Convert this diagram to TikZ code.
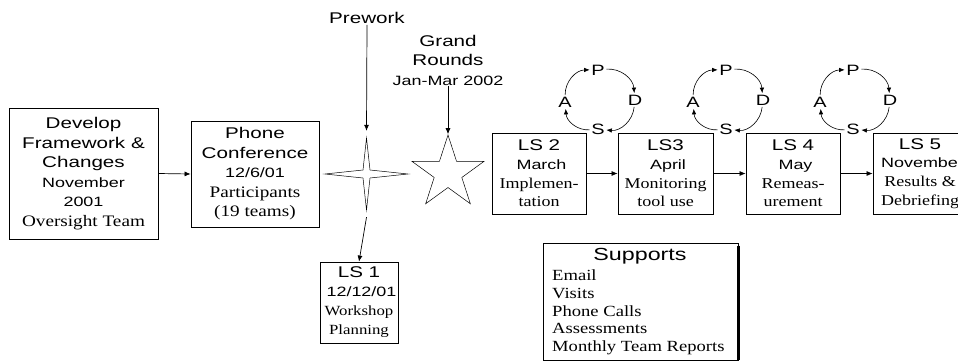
\documentclass[tikz,border=0pt]{standalone}
\usepackage{fontspec}
\setmainfont{Liberation Serif}
\newfontfamily\hsfam[FakeStretch=1.33]{Liberation Sans}
\newfontfamily\tsfam[FakeStretch=1.2]{Liberation Serif}
\usetikzlibrary{shapes.geometric,arrows.meta}
\newcommand\fHead[1][19.5]{\hsfam\fontsize{15.5}{#1}\selectfont}
\newcommand\fSub[1][19.5]{\hsfam\fontsize{13.5}{#1}\selectfont}
\newcommand\fSer[1][19.5]{\tsfam\fontsize{16}{#1}\selectfont}
\newcommand\fSerS[1][18.7]{\tsfam\fontsize{15}{#1}\selectfont}
\newcommand\fSerT[1][19]{\tsfam\fontsize{14}{#1}\selectfont}
\tikzset{
  box/.style={draw, line width=0.8pt, rectangle, inner sep=0pt, align=center},
  conn/.style={-{Latex[length=6pt,width=5pt]}, line width=0.7pt},
  pd/.style={-{Latex[length=5.5pt,width=4.5pt]}, line width=0.6pt},
  letter/.style={inner sep=1.5pt, font=\hsfam\fontsize{15}{18}\selectfont},
  lbl/.style={inner sep=1pt, align=center},
  starline/.style={draw, line width=0.5pt, line join=miter},
}
\begin{document}
\begin{tikzpicture}[x=1pt,y=1pt]
\useasboundingbox (0,0) rectangle (958,-362);
\clip (0,0) rectangle (958,-362);

% left boxes
\node[box, font=\fHead, minimum width=149pt, minimum height=131pt] (dev) at (83.5,-173.5)
  {Develop\\ Framework \&\\ Changes\\ {\fSub November}\\ {\fSub 2001}\\ {\fSer Oversight Team}};
\node[box, font=\fHead, minimum width=128pt, minimum height=106pt] (phone) at (255,-174)
  {Phone\\ Conference\\ {\fSub 12/6/01}\\ {\fSer Participants}\\ {\fSer (19 teams)}};

% four-point star (drawn) with an invisible anchor node
\node[inner sep=0pt, minimum width=83pt, minimum height=86pt] (st4) at (366.5,-174) {};
\draw[starline] (366.5,-138) -- (370,-170) -- (408,-174) -- (370,-178)
  -- (366.5,-210) -- (363,-178) -- (325,-174) -- (363,-170) -- cycle;
% five-point star
\node[draw, star, star points=5, star point ratio=2.618, minimum size=76pt, inner sep=0pt, line width=0.5pt] (st5) at (448,-173) {};

\node[lbl, font=\fHead] (prework) at (367,-18) {Prework};
\node[lbl, font=\fHead] (grand) at (448,-60) {Grand\\ Rounds\\ {\fSub Jan-Mar 2002}};

\node[box, font={\fHead[19]}, minimum width=78pt, minimum height=81pt] (ls1) at (359,-302.5)
  {LS 1\\ {\fSub[19] 12/12/01}\\ {\fSerT Workshop}\\ {\fSerT Planning}};

% LS boxes
\node[box, font={\fHead[18.7]}, minimum width=94pt, minimum height=81pt] (ls2) at (539,-173.5)
  {LS 2\\ {\fSub[18.7] March}\\ {\fSerS Implemen-}\\ {\fSerS tation}};
\node[box, font={\fHead[18.7]}, minimum width=95pt, minimum height=81pt] (ls3) at (665.5,-173.5)
  {LS3\\ {\fSub[18.7] April}\\ {\fSerS Monitoring}\\ {\fSerS tool use}};
\node[box, font={\fHead[18.7]}, minimum width=94pt, minimum height=81pt] (ls4) at (793,-173.5)
  {LS 4\\ {\fSub[18.7] May}\\ {\fSerS Remeas-}\\ {\fSerS urement}};
\node[box, font={\fHead[18.7]}, minimum width=94pt, minimum height=81pt] (ls5) at (920,-173.5)
  {LS 5\\ {\fSub[18.7] November}\\ {\fSerS Results \&}\\ {\fSerS Debriefing}};

% connectors
\draw[conn] (dev.east) -- (phone.west);
\draw[conn] (prework.south) -- (st4.north);
\draw[conn] (st4.south) -- (ls1.north);
\draw[conn] (grand.south) -- (st5.north);
\draw[conn] (ls2.east) -- (ls3.west);
\draw[conn] (ls3.east) -- (ls4.west);
\draw[conn] (ls4.east) -- (ls5.west);

% PDSA cycles
\foreach \cx/\nm in {600/a,728/b,855/c}{
  \node[letter] (P\nm) at (\cx-2,-70) {P};
  \node[letter] (D\nm) at (\cx+35,-100) {D};
  \node[letter] (S\nm) at (\cx-2,-129) {S};
  \node[letter] (A\nm) at (\cx-35,-102) {A};
  \draw[pd] (A\nm) to[bend left=45] (P\nm);
  \draw[pd] (P\nm) to[bend left=45] (D\nm);
  \draw[pd] (D\nm) to[bend left=45] (S\nm);
  \draw[pd] (S\nm) to[bend left=45] (A\nm);
}

% Supports
\node[box, minimum width=195pt, minimum height=117pt] (sup) at (640.5,-301.5) {};
\draw[line width=2.2pt] ([yshift=-3pt]sup.north east) -- (sup.south east);
\node[lbl, font=\hsfam\fontsize{17.5}{20}\selectfont] (suptitle) at (640,-256) {Supports};
\node[lbl, anchor=north west, align=left, font=\tsfam\fontsize{15.5}{17.8}\selectfont] (suplist) at (551,-268.5)
  {Email\\ Visits\\ Phone Calls\\ Assessments\\ Monthly Team Reports};
\end{tikzpicture}
\end{document}
